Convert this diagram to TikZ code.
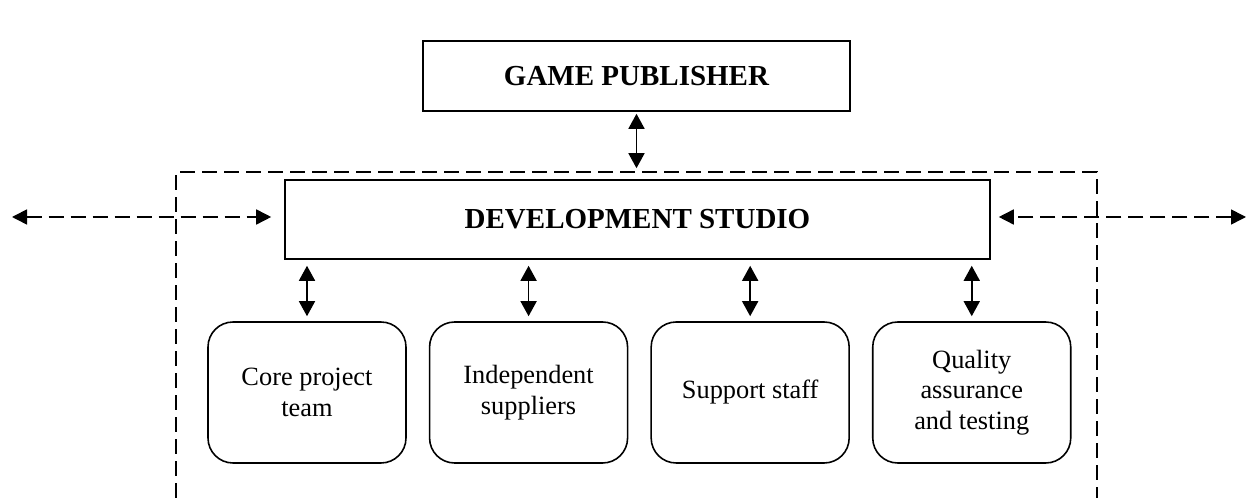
\documentclass[tikz,border=0pt]{standalone}
\usepackage{fontspec}
\setmainfont{Liberation Serif}
\usetikzlibrary{positioning}
\usetikzlibrary{arrows.meta}
\usetikzlibrary{calc}

\begin{document}
\begin{tikzpicture}[
    line width=0.9pt,
    topbox/.style={
        draw,
        align=center,
        font=\fontsize{16.5}{19}\selectfont\bfseries,
        inner sep=0pt
    },
    unitbox/.style={
        draw,
        rounded corners=0.5cm,
        align=center,
        minimum width=3.96cm,
        minimum height=2.82cm,
        inner sep=2pt,
        font=\fontsize{15}{17.5}\selectfont
    },
    link/.style={draw, {Triangle[length=0.3cm,width=0.32cm]}-{Triangle[length=0.3cm,width=0.32cm]}},
    extlink/.style={draw, dash pattern=on 0.3cm off 0.14cm, {Triangle[length=0.3cm,width=0.3cm]}-{Triangle[length=0.3cm,width=0.3cm]}},
    frame/.style={draw, dash pattern=on 0.3cm off 0.14cm}
]
\useasboundingbox (0,0) rectangle (24.96,9.96);

% publisher and studio
\node[topbox, minimum width=8.54cm, minimum height=1.4cm] (publisher) at (12.73,8.44) {GAME PUBLISHER};
\node[topbox, minimum width=14.1cm, minimum height=1.58cm] (studio) at (12.75,5.57) {DEVELOPMENT STUDIO};

% studio boundary (open at the bottom)
\draw[frame] (3.52,0) |- (21.94,6.52) -- (21.94,0);

% units of the studio
\node[unitbox] (core) at (6.14,2.11) {Core project\\team};
\node[unitbox, right=0.44cm of core] (suppliers) {Independent\\suppliers};
\node[unitbox, right=0.44cm of suppliers] (support) {Support staff};
\node[unitbox, right=0.44cm of support] (quality) {Quality\\assurance\\and testing};

% outside partners
\coordinate (farleft) at (0.24,5.62);
\coordinate (farright) at (24.92,5.62);

\draw[link, shorten <=0.04cm, shorten >=0.22cm] (publisher) -- (publisher |- studio.north);
\draw[link, shorten <=0.12cm, shorten >=0.1cm] (core |- studio.south) -- (core);
\draw[link, shorten <=0.12cm, shorten >=0.1cm] (suppliers |- studio.south) -- (suppliers);
\draw[link, shorten <=0.12cm, shorten >=0.1cm] (support |- studio.south) -- (support);
\draw[link, shorten <=0.12cm, shorten >=0.1cm] (quality |- studio.south) -- (quality);

\draw[extlink, shorten >=0.26cm] (farleft) -- (farleft -| studio.west);
\draw[extlink, shorten >=0.16cm] (farright) -- (farright -| studio.east);

\end{tikzpicture}
\end{document}
